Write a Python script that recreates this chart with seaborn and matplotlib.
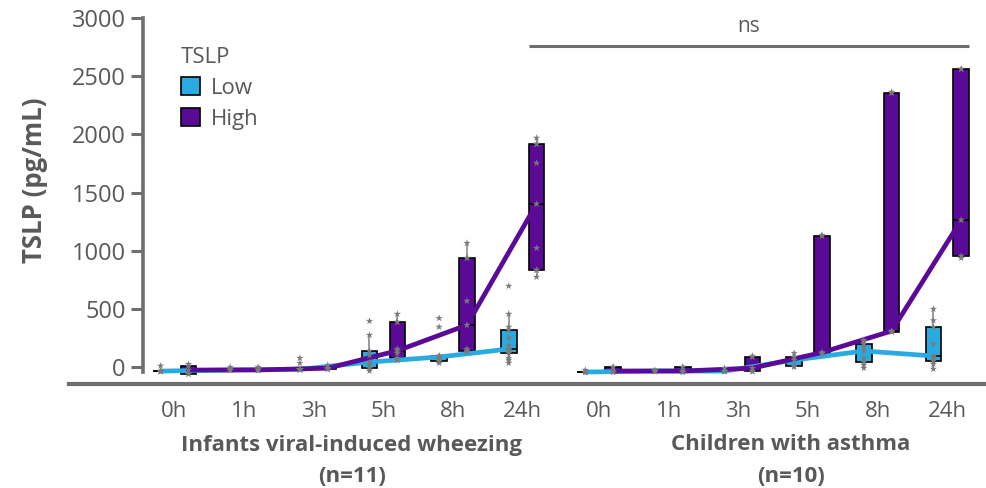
import numpy as np
import pandas as pd
import matplotlib
matplotlib.use("Agg")
import matplotlib.pyplot as plt
from matplotlib import font_manager
from matplotlib.patches import Patch
import seaborn as sns

# ---- data -----------------------------------------------------------------
times = ["0h", "1h", "3h", "5h", "8h", "24h"]
levels = ["Low", "High"]
group_names = ["Infants viral-induced wheezing", "Children with asthma"]
group_n = ["(n=11)", "(n=10)"]
group_start = [0.0, 6.1]

# TSLP (pg/mL) per time point, one list per time point
infants_low = [
    [-40, -35, -35, -35, 10],
    [-30, -25, -25, -25, 0],
    [-25, -20, -20, -20, -20, -20, -20, 34, 77],
    [-34, -9, -9, 20, 43, 100, 138, 275, 395],
    [34, 52, 52, 70, 86, 95, 95, 344, 420],
    [34, 60, 77, 120, 146, 150, 155, 189, 250, 318, 344, 456, 697],
]
infants_high = [
    [-60, -60, -26, 10, 25],
    [-30, -25, -25, -25, 0],
    [-20, -15, -10, -10, 17],
    [60, 60, 77, 120, 140, 155, 387, 387, 456],
    [130, 138, 138, 155, 361, 568, 937, 937, 1066],
    [774, 834, 834, 1023, 1402, 1754, 1918, 1918, 1970],
]
children_low = [
    [-45, -43, -43, -43, -26],
    [-40, -35, -35, -35, -30],
    [-40, -35, -35, -35, -9],
    [0, 9, 60, 86, 120],
    [-9, 17, 43, 77, 138, 172, 198, 220, 232],
    [-17, 26, 52, 80, 95, 198, 344, 400, 499],
]
children_high = [
    [-45, -43, -34, 0, 0],
    [-45, -43, -34, 0, 0],
    [-40, -35, -10, 86, 95],
    [115, 120, 125, 1127, 1135],
    [300, 305, 310, 2356, 2365],
    [937, 955, 1264, 2563, 2563],
]

colors = {"Low": "#29abe2", "High": "#5a0a96"}
gray_text = "#595959"
axis_gray = "#6e6e6e"

# ---- long table -------------------------------------------------------------
rows = []
series = [(0, "Low", infants_low), (0, "High", infants_high),
          (1, "Low", children_low), (1, "High", children_high)]
for g, lev, per_time in series:
    for t, vals in enumerate(per_time):
        for v in vals:
            rows.append({"group": g, "pos": group_start[g] + t, "level": lev, "value": v})
df = pd.DataFrame(rows)

# ---- style ------------------------------------------------------------------
sns.set_style("white")
available = {f.name for f in font_manager.fontManager.ttflist}
family = [f for f in ["Open Sans", "Noto Sans", "DejaVu Sans"] if f in available]
plt.rcParams["font.family"] = family

fig = plt.figure(figsize=(9.87, 4.88), dpi=100)
ax = fig.add_axes([69 / 987, 104 / 488, 918 / 987, 384 / 488])

sns.boxplot(
    data=df, x="pos", y="value", hue="level", hue_order=levels, palette=colors,
    saturation=1, native_scale=True, width=0.8, gap=0.44, whis=1.5,
    showfliers=False, linecolor="black", linewidth=1.2, legend=False, ax=ax,
    whiskerprops={"color": "#8a8a8a", "linewidth": 1.2},
    capprops={"visible": False},
    zorder=2,
)

# median trajectories, one per cohort
for g in range(2):
    sns.pointplot(
        data=df[df["group"] == g], x="pos", y="value", hue="level",
        hue_order=levels, palette=colors, estimator="median", errorbar=None,
        dodge=0.4, markers="", native_scale=True, legend=False, ax=ax,
        linewidth=3.4, zorder=4,
    )

sns.stripplot(
    data=df, x="pos", y="value", hue="level", hue_order=levels,
    palette={"Low": "#7a7a7a", "High": "#7a7a7a"}, native_scale=True,
    dodge=True, jitter=False, marker="*", size=5.5, legend=False, ax=ax, zorder=6,
)

# ---- axes -------------------------------------------------------------------
ax.set_xlim(-1.516, 11.67)
ax.set_ylim(-146, 3156)
ticks = [group_start[g] + t for g in range(2) for t in range(len(times))]
ax.set_xticks(ticks)
ax.set_xticklabels(times * 2)
ax.set_yticks(range(0, 3001, 500))
ax.set_xlabel("")
ax.set_ylabel("")

for side in ["top", "right"]:
    ax.spines[side].set_visible(False)
ax.spines["left"].set_position(("data", -0.46))
ax.spines["left"].set_bounds(-43, 3000)
ax.spines["left"].set_color(axis_gray)
ax.spines["left"].set_linewidth(2.6)
ax.spines["bottom"].set_color(axis_gray)
ax.spines["bottom"].set_linewidth(3.0)

ax.tick_params(axis="x", length=0, pad=12, labelsize=16, labelcolor=gray_text)
ax.tick_params(axis="y", length=9, width=2.2, color=axis_gray, pad=3,
               labelsize=17, labelcolor=gray_text, left=True)

# significance bar between the two 24h high groups
x_left = group_start[0] + 5 + 0.2 - 0.11
x_right = group_start[1] + 5 + 0.2 + 0.11
ax.plot([x_left, x_right], [2761, 2761], color=axis_gray, lw=2.2,
        solid_capstyle="butt", zorder=3)
ax.text((x_left + x_right) / 2, 2925, "ns", ha="center", va="center",
        fontsize=15, color=gray_text)

# cohort labels
for cx, name, n in zip([352, 791], group_names, group_n):
    fig.text(cx / 987, 1 - 445 / 488, name, ha="center", va="center",
             fontsize=16, fontweight="bold", color=gray_text)
    fig.text(cx / 987, 1 - 477 / 488, n, ha="center", va="center",
             fontsize=16, fontweight="bold", color=gray_text)

fig.text(35 / 987, 1 - 180 / 488, "TSLP (pg/mL)", rotation=90, ha="center",
         va="center", fontsize=18.5, fontweight="bold", color=gray_text)

handles = [Patch(facecolor=colors[l], edgecolor="black", linewidth=1.2, label=l)
           for l in levels]
leg = ax.legend(handles=handles, title="TSLP", loc="upper left",
                bbox_to_anchor=(181 / 987, 1 - 47 / 488),
                bbox_transform=fig.transFigure, frameon=False, fontsize=16,
                title_fontsize=16, handlelength=0.85, handleheight=0.85,
                handletextpad=0.5, labelspacing=0.42, alignment="left",
                borderaxespad=0, borderpad=0)
for txt in leg.get_texts():
    txt.set_color(gray_text)
leg.get_title().set_color(gray_text)

fig.savefig("out.png", dpi=100)
